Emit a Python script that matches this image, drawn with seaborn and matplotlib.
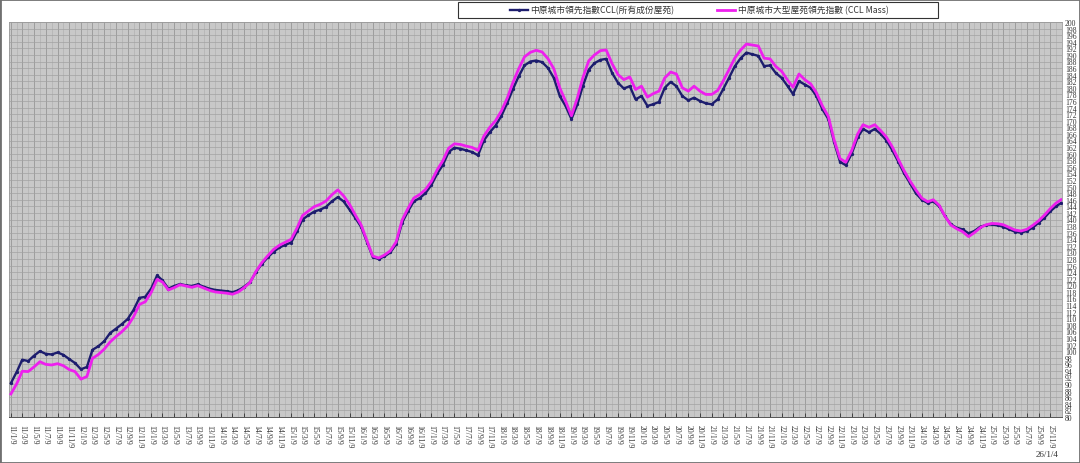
import pandas as pd
import matplotlib
matplotlib.use("Agg")
import matplotlib.pyplot as plt
import matplotlib.dates as mdates
from matplotlib.patches import Rectangle
import seaborn as sns

# monthly readings of the two indices, Jan 2011 .. Dec 2025, plus the last reading (2026-01-04)
ccl_all = [
    90.3, 93.8, 97.4, 97.0, 98.6, 100.0, 99.2, 99.0, 99.6, 98.9, 97.6, 96.4,
    94.5, 95.2, 100.4, 101.5, 103.0, 105.5, 106.8, 108.2, 109.8, 112.5, 116.2, 116.5,
    119.0, 123.0, 121.5, 119.0, 119.8, 120.4, 120.0, 119.8, 120.3, 119.6, 119.0, 118.6,
    118.4, 118.2, 117.9, 118.5, 119.6, 121.0, 124.0, 126.5, 128.5, 130.2, 131.5, 132.3,
    133.0, 136.5, 140.0, 141.3, 142.4, 143.0, 143.8, 145.5, 146.8, 145.5, 143.0, 140.5,
    137.7, 133.0, 128.6, 128.0, 128.8, 130.0, 132.5, 139.0, 142.5, 145.5, 146.5, 148.0,
    150.5, 154.0, 156.5, 160.5, 161.8, 161.5, 161.0, 160.5, 159.5, 164.0, 166.5, 168.5,
    171.5, 175.5, 179.5, 183.5, 186.8, 188.0, 188.3, 187.8, 186.0, 183.0, 177.5, 174.5,
    170.5, 175.0, 180.5, 185.5, 187.5, 188.5, 188.8, 184.5, 181.5, 179.8, 180.5, 176.5,
    177.5, 174.5, 175.0, 175.7, 180.0, 181.8, 180.5, 177.5, 176.2, 177.0, 176.0, 175.3,
    175.0, 176.5, 179.5, 183.0, 186.5, 189.0, 190.7, 190.2, 189.7, 186.6, 186.8, 184.5,
    183.0, 180.5, 178.1, 182.0, 181.0, 180.0, 177.5, 173.5, 170.5, 163.5, 157.5, 156.5,
    160.0, 165.0, 167.5, 166.5, 167.5, 166.0, 164.0, 161.0, 157.5, 154.0, 151.0, 148.0,
    146.0, 145.0, 145.5, 144.0, 141.0, 138.5, 137.5, 137.0, 135.8, 136.5, 137.8, 138.3,
    138.5, 138.2, 137.8, 137.0, 136.3, 136.0, 136.5, 137.5, 139.0, 140.5, 142.5, 144.0,
    145.0,
]
ccl_mass = [
    87.0, 90.2, 93.9, 93.8, 95.2, 96.8, 96.0, 95.8, 96.2, 95.6, 94.4, 93.8,
    91.5, 92.3, 97.8, 99.0, 100.6, 102.8, 104.4, 105.9, 107.7, 110.4, 114.2, 115.0,
    117.8, 121.8, 121.0, 118.6, 119.3, 120.2, 119.8, 119.4, 119.9, 119.2, 118.5, 118.0,
    117.8, 117.6, 117.3, 118.0, 119.3, 120.9, 124.2, 126.9, 129.0, 130.9, 132.2, 133.1,
    134.0, 137.5, 141.2, 142.6, 143.9, 144.6, 145.6, 147.5, 149.0, 147.2, 144.6, 141.4,
    138.3, 133.4, 128.9, 128.3, 129.2, 130.5, 133.2, 139.8, 143.4, 146.5, 147.6, 149.1,
    151.6, 155.2, 157.8, 161.7, 163.0, 162.8, 162.3, 161.9, 161.0, 165.3, 168.0, 170.0,
    173.0, 177.0, 181.5, 185.8, 189.4, 190.8, 191.4, 190.9, 188.8, 185.8, 180.0, 176.0,
    171.5, 177.0, 183.0, 188.2, 190.0, 191.3, 191.5, 187.3, 184.0, 182.5, 183.3, 179.5,
    180.5, 177.2, 178.2, 179.0, 183.0, 184.8, 184.2, 180.0, 179.0, 180.5, 179.0, 178.0,
    178.0, 179.2, 182.0, 185.5, 189.0, 191.5, 193.3, 193.0, 192.7, 189.0, 188.8, 186.5,
    185.0, 182.3, 180.2, 184.2, 182.5, 181.2, 178.5, 174.5, 171.3, 164.2, 158.5, 157.4,
    161.0, 166.0, 168.8, 168.0, 168.8, 167.0, 165.0, 162.0, 158.3, 154.8, 151.7, 149.0,
    146.5, 145.4, 146.0, 144.3, 141.0, 138.3, 137.2, 136.3, 134.8, 136.0, 137.5, 138.4,
    138.8, 138.7, 138.4, 137.6, 136.8, 136.5, 137.0, 138.2, 139.6, 141.3, 143.3, 145.0,
    146.0,
]
label_all = "中原城市領先指數CCL(所有成份屋苑)"
label_mass = "中原城市大型屋苑領先指數 (CCL Mass)"
end_label = "26/1/4"
y_ticks = list(range(80, 201, 2))

dates = list(pd.date_range("2011-01-01", "2025-12-01", freq="MS") + pd.Timedelta(days=8))
dates.append(pd.Timestamp("2026-01-04"))
tick_dates = pd.date_range("2011-01-01", "2025-11-01", freq="2MS") + pd.Timedelta(days=8)
tick_labels = [f"{d.year % 100}/{d.month}/9" for d in tick_dates]

df = pd.DataFrame({"date": dates, "all": ccl_all, "mass": ccl_mass})

plt.rcParams["font.family"] = ["Noto Sans CJK TC", "DejaVu Sans"]

fig = plt.figure(figsize=(10.8, 4.64), dpi=100)
ax = fig.add_axes([9 / 1080, 1 - 418 / 464, 1053 / 1080, 395 / 464])
ax.set_facecolor("#c8c8c8")

sns.lineplot(data=df, x="date", y="all", ax=ax, color="#1d1d6e", linewidth=1.7,
             marker="o", markersize=2.4, markeredgewidth=0, label=label_all, legend=False, zorder=3)
sns.lineplot(data=df, x="date", y="mass", ax=ax, color="#ee1fee", linewidth=2.0,
             label=label_mass, legend=False, zorder=4)

ax.set_xlim(pd.Timestamp("2010-12-30"), pd.Timestamp("2026-01-09"))
ax.set_ylim(80, 200)
ax.set_xlabel("")
ax.set_ylabel("")

ax.yaxis.tick_right()
ax.set_yticks(y_ticks)
ax.set_yticklabels([str(v) for v in y_ticks], fontsize=5.5, family="Liberation Serif", color="#333333")
ax.tick_params(axis="y", which="both", length=0, pad=2)

ax.set_xticks(tick_dates)
ax.set_xticklabels(tick_labels, rotation=270, fontsize=5.6, family="Liberation Serif",
                   color="#333333", va="top", ha="center")
ax.xaxis.set_minor_locator(mdates.MonthLocator(bymonthday=9))
ax.tick_params(axis="x", which="major", direction="in", length=3, width=0.6, color="#333333", pad=5)
ax.tick_params(axis="x", which="minor", length=0)

ax.grid(which="major", axis="x", color="#8c8c8c", linewidth=0.5)
ax.grid(which="minor", axis="x", color="#acacac", linewidth=0.4)
ax.grid(which="major", axis="y", color="#a2a2a2", linewidth=0.5)
ax.set_axisbelow(True)

for side in ["top", "right", "left"]:
    ax.spines[side].set_color("#9a9a9a")
    ax.spines[side].set_linewidth(0.6)
ax.spines["bottom"].set_color("#555555")
ax.spines["bottom"].set_linewidth(0.7)

ax.annotate(end_label, xy=(dates[-1], 0), xycoords=("data", "axes fraction"),
            xytext=(-14, -37), textcoords="offset pixels", ha="center", va="center",
            fontsize=6.5, family="Liberation Serif", color="#333333")

# legend with its own box
handles = ax.get_lines()[:2]
fig.legend(handles, [label_all, label_mass], loc="center", bbox_to_anchor=(699 / 1080, 1 - 11 / 464),
           ncol=2, frameon=False, fontsize=6.3, handlelength=2.1, handletextpad=0.3,
           columnspacing=4.8, labelcolor="#333333")
fig.patches.append(Rectangle((458 / 1080, 1 - 19 / 464), 480 / 1080, 16 / 464, transform=fig.transFigure,
                             fill=False, edgecolor="#333333", linewidth=0.8))
fig.patches.append(Rectangle((0, 0), 1, 1, transform=fig.transFigure, fill=False,
                             edgecolor="#707070", linewidth=2))

fig.savefig("out.png", dpi=100)
